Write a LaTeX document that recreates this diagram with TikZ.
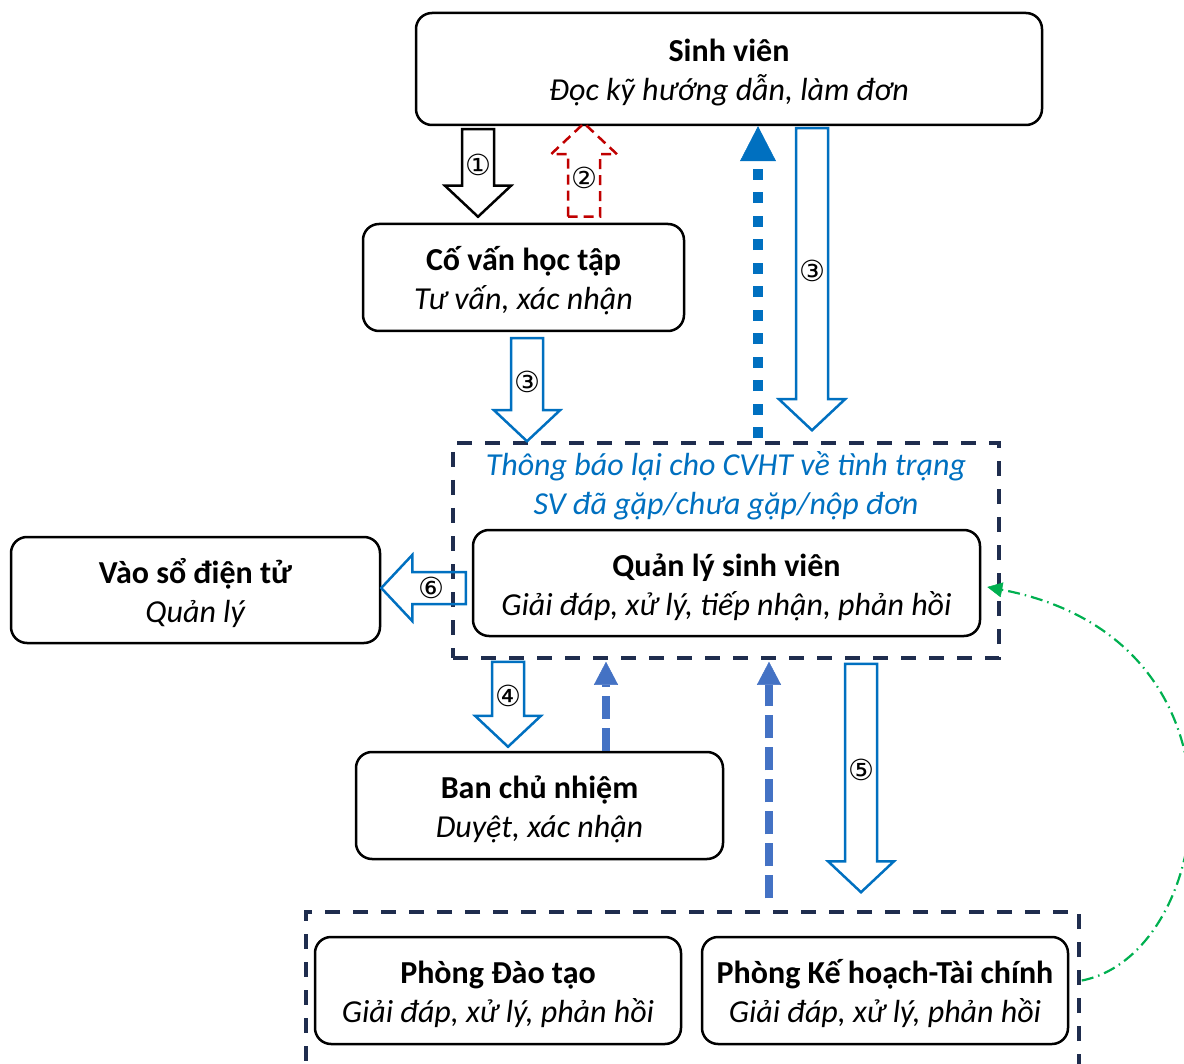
\documentclass[tikz,border=0pt]{standalone}
\usepackage{fontspec}
\setmainfont{Carlito}
\newfontfamily\circfont{DejaVu Sans}
\usetikzlibrary{arrows.meta,calc}

\definecolor{navy}{HTML}{1F2D4E}
\definecolor{msblue}{HTML}{0070C0}
\definecolor{softblue}{HTML}{4472C4}
\definecolor{darkred}{HTML}{C00000}
\definecolor{msgreen}{HTML}{00B050}

% hollow block arrow from tail (#2) to tip (#3), number #4 on the shaft
\newcommand{\blockarrow}[4][]{%
  \coordinate (ba-t) at (#2);
  \coordinate (ba-p) at (#3);
  \coordinate (ba-h) at ($(ba-p)!31pt!(ba-t)$);
  \draw[blk,#1] ($(ba-t)!16pt!90:(ba-p)$) -- ($(ba-h)!16pt!90:(ba-p)$)
    -- ($(ba-h)!33pt!90:(ba-p)$) -- (ba-p) -- ($(ba-h)!33pt!-90:(ba-p)$)
    -- ($(ba-h)!16pt!-90:(ba-p)$) -- ($(ba-t)!16pt!-90:(ba-p)$) -- cycle;
  \node[num] at ($(ba-t)!.5!(ba-p)!8pt!(ba-t)$) {#4};
}

\begin{document}
\begin{tikzpicture}[
  x=1pt, y=-1pt,
  box/.style={draw, line width=2.5pt, rounded corners=16pt, align=center,
              font=\fontsize{32}{39}\selectfont, inner sep=0pt,
              text height=70pt, text depth=6pt},
  grpbox/.style={draw=navy, line width=3.5pt, dash pattern=on 15pt off 13pt, inner sep=0pt},
  note/.style={align=center, text=msblue, font=\fontsize{32}{39}\selectfont\itshape},
  num/.style={font=\circfont\fontsize{29}{30}\selectfont, inner sep=0pt},
  blk/.style={line width=2.5pt, line join=miter},
  dotblue/.style={msblue, line width=10pt, dash pattern=on 11pt off 12.5pt,
                  -{Triangle[width=36pt,length=35pt,line width=0.5pt]}},
  dashblue/.style={softblue, line width=8pt, dash pattern=on 23pt off 9pt,
                   -{Triangle[width=24pt,length=23pt,line width=0.5pt]}},
  greenarc/.style={msgreen, line width=2.2pt, dash pattern=on 12pt off 5pt on 1.5pt off 5pt,
                   -{Triangle[width=15pt,length=15pt,line width=0.5pt]}},
]
\useasboundingbox (0,0) rectangle (1184,1064);

\node[box, minimum width=626, minimum height=112] (sv) at (729,69)
  {\textbf{Sinh viên}\\\textit{Đọc kỹ hướng dẫn, làm đơn}};
\node[box, minimum width=321, minimum height=107] (cv) at (523.5,277.5)
  {\textbf{Cố vấn học tập}\\\textit{Tư vấn, xác nhận}};
\node[grpbox, minimum width=546, minimum height=215] (grp) at (726,550.5) {};
\node[note] (msg) at (726,486)
  {Thông báo lại cho CVHT về tình trạng\\SV đã gặp/chưa gặp/nộp đơn};
\node[box, minimum width=507, minimum height=106] (qlsv) at (726.5,583)
  {\textbf{Quản lý sinh viên}\\\textit{Giải đáp, xử lý, tiếp nhận, phản hồi}};
\node[box, minimum width=369, minimum height=106] (vs) at (195.5,590)
  {\textbf{Vào sổ điện tử}\\\textit{Quản lý}};
\node[box, minimum width=367, minimum height=107] (bcn) at (539.5,805.5)
  {\textbf{Ban chủ nhiệm}\\\textit{Duyệt, xác nhận}};
\node[grpbox, minimum width=773, minimum height=168] (grp2) at (692.5,996) {};
\node[box, minimum width=366, minimum height=107] (pdt) at (498,990.5)
  {\textbf{Phòng Đào tạo}\\\textit{Giải đáp, xử lý, phản hồi}};
\node[box, minimum width=366, minimum height=107] (kh) at (885,990.5)
  {\textbf{Phòng Kế hoạch-Tài chính}\\\textit{Giải đáp, xử lý, phản hồi}};

% numbered steps
\blockarrow[draw=black]{$(sv.south -| 478,0)+(0,3)$}{$(cv.north -| 478,0)+(0,-6)$}{①}
\blockarrow[draw=darkred, dash pattern=on 10pt off 6pt]{$(cv.north -| 584,0)+(0,-6)$}{$(sv.south -| 584,0)+(0,-3)$}{②}
\blockarrow[draw=msblue]{$(sv.south -| 812,0)+(0,2)$}{$(grp.north -| 812,0)+(0,-11)$}{③}
\blockarrow[draw=msblue]{$(cv.south -| 527,0)+(0,6)$}{grp.north -| 527,0}{③}
\blockarrow[draw=msblue]{$(qlsv.west |- 0,588)+(-6,0)$}{vs.east |- 0,588}{⑥}
\blockarrow[draw=msblue]{$(grp.south -| 508,0)+(0,2)$}{$(bcn.north -| 508,0)+(0,-4)$}{④}
\blockarrow[draw=msblue]{$(grp.south -| 861,0)+(0,4)$}{$(grp2.north -| 861,0)+(0,-18)$}{⑤}

% feedback
\draw[dotblue] ($(grp.north -| 758,0)+(0,-3)$) -- (sv.south -| 758,0);
\draw[dashblue] (bcn.north -| 606,0) -- ($(grp.south -| 606,0)+(0,2)$);
\draw[dashblue] ($(grp2.north -| 769,0)+(0,-12)$) -- ($(grp.south -| 769,0)+(0,2)$);
\draw[greenarc] ($(grp2.east |- kh.east)+(1,-10)$) .. controls (1215,955) and (1265,640) .. ($(qlsv.east)+(6,4)$);

\end{tikzpicture}
\end{document}
